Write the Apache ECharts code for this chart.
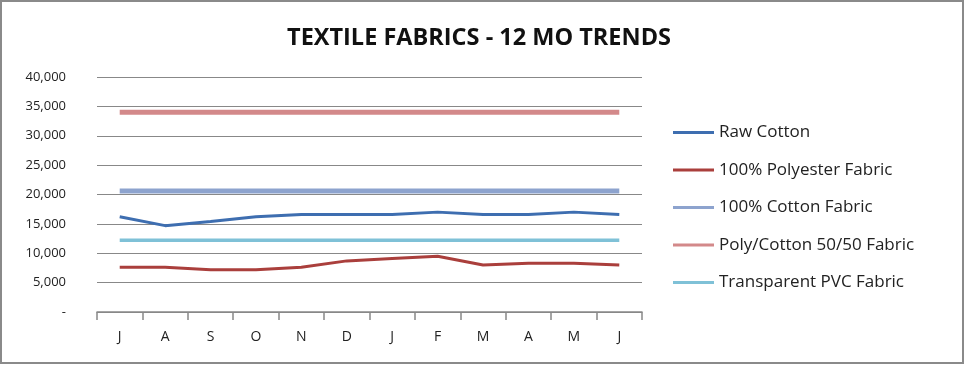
<!DOCTYPE html>
<html><head><meta charset="utf-8">
<script src="https://cdn.jsdelivr.net/npm/echarts@6/dist/echarts.min.js"></script>
<style>html,body{margin:0;padding:0;background:#fff}#c{width:964px;height:365px}</style>
</head><body><div id="c"></div>
<script>
const months = ['J','A','S','O','N','D','J','F','M','A','M','J'];
const rawCotton = [16200,14700,15400,16200,16600,16600,16600,17000,16600,16600,17000,16600];
const polyester = [7600,7600,7200,7200,7600,8700,9100,9500,8000,8300,8300,8000];
const cottonFabric = [20600,20600,20600,20600,20600,20600,20600,20600,20600,20600,20600,20600];
const polyCotton = [34000,34000,34000,34000,34000,34000,34000,34000,34000,34000,34000,34000];
const pvcFabric = [12200,12200,12200,12200,12200,12200,12200,12200,12200,12200,12200,12200];
const seriesNames = ['Raw Cotton','100% Polyester Fabric','100% Cotton Fabric','Poly/Cotton 50/50 Fabric','Transparent PVC Fabric'];

const FONT = '"Open Sans", Lato, sans-serif';
const chart = echarts.init(document.getElementById('c'), null, {renderer:'canvas'});
function s(name, data, color, width){
  return {name, type:'line', data, symbol:'none', smooth:false, animation:false,
    lineStyle:{color, width}, itemStyle:{color}};
}
chart.setOption({
  animation:false,
  title:{text:'TEXTILE FABRICS - 12 MO TRENDS', left:474, textAlign:'center', top:21,
    textStyle:{fontFamily:FONT, fontWeight:'bold', fontSize:23.5, color:'#111'}},
  graphic:[{type:'rect', shape:{x:1,y:1,width:962,height:362}, style:{fill:'none', stroke:'#8a8a8a', lineWidth:2}}],
  grid:{left:97, right:322, top:77, bottom:53},
  legend:{orient:'vertical', left:668, top:119, itemGap:20.5, itemWidth:41, itemHeight:18,
    icon:'path://M0,7 L41,7 L41,10 L0,10 Z',
    textStyle:{fontFamily:FONT, fontSize:17, color:'#222', padding:[0,0,0,0]},
    data:seriesNames},
  xAxis:{type:'category', data:months, boundaryGap:true,
    axisLine:{lineStyle:{color:'#888', width:1.5}},
    axisTick:{show:true, length:8, lineStyle:{color:'#888', width:1.5}},
    axisLabel:{fontFamily:FONT, fontSize:14, color:'#222', margin:18}},
  yAxis:{type:'value', min:0, max:40000, interval:5000,
    axisLine:{show:false}, axisTick:{show:false},
    splitLine:{lineStyle:{color:'#888', width:1.2}},
    axisLabel:{fontFamily:FONT, fontSize:13, color:'#222', margin:31,
      formatter:v=> v===0 ? '-' : v.toLocaleString('en-US')}},
  series:[
    s(seriesNames[0], rawCotton, '#3E6EB0', 3),
    s(seriesNames[1], polyester, '#AA3F3C', 3),
    s(seriesNames[2], cottonFabric, '#8DA3CE', 5),
    s(seriesNames[3], polyCotton, '#D3898A', 5),
    s(seriesNames[4], pvcFabric, '#7FC1D7', 3.5)
  ]
});
</script></body></html>
